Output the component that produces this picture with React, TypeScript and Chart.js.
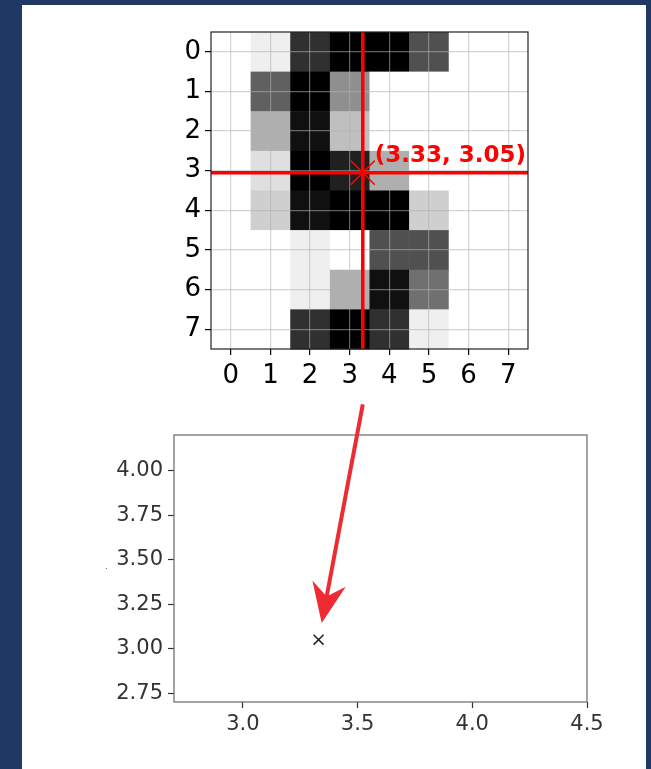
import React, { useEffect, useRef } from 'react';
import { Chart, registerables } from 'chart.js';

Chart.register(...registerables);

// ---------- data ----------
const ROW_0 = [0, 1, 13, 16, 16, 11, 0, 0];
const ROW_1 = [0, 10, 16, 7, 0, 0, 0, 0];
const ROW_2 = [0, 5, 15, 4, 0, 0, 0, 0];
const ROW_3 = [0, 2, 16, 14, 5, 0, 0, 0];
const ROW_4 = [0, 3, 15, 16, 16, 3, 0, 0];
const ROW_5 = [0, 0, 1, 0, 11, 11, 0, 0];
const ROW_6 = [0, 0, 1, 5, 15, 9, 0, 0];
const ROW_7 = [0, 0, 13, 16, 13, 1, 0, 0];
const PIXELS = [ROW_0, ROW_1, ROW_2, ROW_3, ROW_4, ROW_5, ROW_6, ROW_7];
const VMAX = 16;

const TOP_TICKS = [0, 1, 2, 3, 4, 5, 6, 7];
const POINT_X = 3.33;
const POINT_Y = 3.05;
const POINT_LABEL = `(${POINT_X.toFixed(2)}, ${POINT_Y.toFixed(2)})`;

const BOTTOM_X_TICKS = [3.0, 3.5, 4.0, 4.5];
const BOTTOM_Y_TICKS = [2.75, 3.0, 3.25, 3.5, 3.75, 4.0];
const BOTTOM_X_MIN = 2.7;
const BOTTOM_X_MAX = 4.5;
const BOTTOM_Y_MIN = 2.7;
const BOTTOM_Y_MAX = 4.2;

// arrow start, in the top image's data coordinates
const ARROW_FROM_X = 3.33;
const ARROW_FROM_Y = 8.9;

// ---------- style ----------
const FONT = '"DejaVu Sans", sans-serif';
const RED = '#ff0000';
const ARROW_RED = '#ee2b33';
const GRID = 'rgba(176,176,176,0.55)';

const TOP_LEFT = 150;
const TOP_TOP = 20;
const TOP_W = 390;
const TOP_H = 370;

const BOT_LEFT = 100;
const BOT_TOP = 390;
const BOT_W = 520;
const BOT_H = 379;

const heatmapPlugin = {
  id: 'heatmap',
  beforeDraw(chart: any) {
    const { ctx, scales } = chart;
    const xs = scales.x;
    const ys = scales.y;
    ctx.save();
    PIXELS.forEach((row, r) => {
      row.forEach((v, c) => {
        const g = Math.round(255 * (1 - v / VMAX));
        const x0 = xs.getPixelForValue(c - 0.5);
        const x1 = xs.getPixelForValue(c + 0.5);
        const y0 = ys.getPixelForValue(r - 0.5);
        const y1 = ys.getPixelForValue(r + 0.5);
        ctx.fillStyle = `rgb(${g},${g},${g})`;
        ctx.fillRect(Math.min(x0, x1), Math.min(y0, y1), Math.abs(x1 - x0) + 0.5, Math.abs(y1 - y0) + 0.5);
      });
    });
    ctx.restore();
  },
};

const makeFrame = (color: string, width: number) => ({
  id: 'frame',
  afterDatasetsDraw(chart: any) {
    const { ctx, chartArea } = chart;
    ctx.save();
    ctx.strokeStyle = color;
    ctx.lineWidth = width;
    ctx.strokeRect(chartArea.left, chartArea.top, chartArea.right - chartArea.left, chartArea.bottom - chartArea.top);
    ctx.restore();
  },
});

const labelPlugin = {
  id: 'pointLabel',
  afterDatasetsDraw(chart: any) {
    const { ctx, scales } = chart;
    const px = scales.x.getPixelForValue(POINT_X);
    const py = scales.y.getPixelForValue(POINT_Y);
    ctx.save();
    ctx.fillStyle = RED;
    ctx.font = `bold 23px ${FONT}`;
    ctx.textAlign = 'left';
    ctx.textBaseline = 'alphabetic';
    ctx.fillText(POINT_LABEL, px + 12, py - 11);
    ctx.restore();
  },
};

const setTicks = (list: number[]) => (scale: any) => {
  scale.ticks = list.map((value) => ({ value }));
};

const fixX = (h: number) => (s: any) => {
  s.height = h;
  s.paddingLeft = 0;
  s.paddingRight = 0;
};
const fixY = (w: number) => (s: any) => {
  s.width = w;
  s.paddingTop = 0;
  s.paddingBottom = 0;
};

export default function App() {
  const topRef = useRef<HTMLCanvasElement>(null);
  const botRef = useRef<HTMLCanvasElement>(null);
  const arrowRef = useRef<HTMLCanvasElement>(null);

  useEffect(() => {
    const topTickFont = { family: FONT, size: 26 };
    const top = new Chart(topRef.current as HTMLCanvasElement, {
      type: 'scatter',
      data: {
        datasets: [
          {
            type: 'scatter',
            data: [{ x: POINT_X, y: POINT_Y }],
            pointStyle: 'crossRot',
            pointRadius: 17,
            borderColor: RED,
            backgroundColor: RED,
            borderWidth: 1.5,
          },
          {
            type: 'line',
            data: [{ x: POINT_X, y: -0.5 }, { x: POINT_X, y: 7.5 }],
            borderColor: RED,
            borderWidth: 3.5,
            pointRadius: 0,
            fill: false,
          },
          {
            type: 'line',
            data: [{ x: -0.5, y: POINT_Y }, { x: 7.5, y: POINT_Y }],
            borderColor: RED,
            borderWidth: 3.5,
            pointRadius: 0,
            fill: false,
          },
        ],
      } as any,
      options: {
        responsive: false,
        animation: false,
        layout: { autoPadding: false, padding: { top: 12, right: 12, left: 0, bottom: 0 } },
        plugins: { legend: { display: false }, tooltip: { enabled: false } },
        scales: {
          x: {
            type: 'linear',
            min: -0.5,
            max: 7.5,
            afterBuildTicks: setTicks(TOP_TICKS),
            afterFit: fixX(41),
            grid: { color: GRID, lineWidth: 1.2, tickColor: '#000', tickLength: 6, tickWidth: 1.2 },
            border: { display: false },
            ticks: { font: topTickFont, color: '#000', padding: 6, maxRotation: 0, autoSkip: false },
          },
          y: {
            type: 'linear',
            reverse: true,
            min: -0.5,
            max: 7.5,
            afterBuildTicks: setTicks(TOP_TICKS),
            afterFit: fixY(61),
            grid: { color: GRID, lineWidth: 1.2, tickColor: '#000', tickLength: 6, tickWidth: 1.2 },
            border: { display: false },
            ticks: { font: topTickFont, color: '#000', padding: 4, autoSkip: false },
          },
        },
      } as any,
      plugins: [heatmapPlugin, makeFrame('#222', 1.2), labelPlugin],
    });

    const botTickFont = { family: FONT, size: 21 };
    const bot = new Chart(botRef.current as HTMLCanvasElement, {
      type: 'scatter',
      data: {
        datasets: [
          {
            data: [{ x: POINT_X, y: POINT_Y }],
            pointStyle: 'crossRot',
            pointRadius: 7,
            borderColor: '#222',
            backgroundColor: '#222',
            borderWidth: 1.5,
          },
        ],
      } as any,
      options: {
        responsive: false,
        animation: false,
        layout: { autoPadding: false, padding: { top: 45, right: 33, left: 0, bottom: 0 } },
        plugins: { legend: { display: false }, tooltip: { enabled: false } },
        scales: {
          x: {
            type: 'linear',
            min: BOTTOM_X_MIN,
            max: BOTTOM_X_MAX,
            afterBuildTicks: setTicks(BOTTOM_X_TICKS),
            afterFit: fixX(67),
            grid: { drawOnChartArea: false, tickColor: '#333', tickLength: 6, tickWidth: 1.2 },
            border: { display: false },
            ticks: {
              font: botTickFont,
              color: '#333',
              padding: 4,
              maxRotation: 0,
              autoSkip: false,
              callback: (v: any) => Number(v).toFixed(1),
            },
          },
          y: {
            type: 'linear',
            min: BOTTOM_Y_MIN,
            max: BOTTOM_Y_MAX,
            afterBuildTicks: setTicks(BOTTOM_Y_TICKS),
            afterFit: fixY(74),
            grid: { drawOnChartArea: false, tickColor: '#333', tickLength: 6, tickWidth: 1.2 },
            border: { display: false },
            title: { display: true, text: '.', color: '#777', font: { family: FONT, size: 8 }, padding: 0 },
            ticks: {
              font: botTickFont,
              color: '#333',
              padding: 5,
              autoSkip: false,
              callback: (v: any) => Number(v).toFixed(2),
            },
          },
        },
      } as any,
      plugins: [makeFrame('#666', 1.2)],
    });

    // arrow from the top image to the bottom point
    const canvas = arrowRef.current as HTMLCanvasElement;
    const ctx = canvas.getContext('2d') as CanvasRenderingContext2D;
    ctx.clearRect(0, 0, canvas.width, canvas.height);
    const ax = TOP_LEFT + top.scales.x.getPixelForValue(ARROW_FROM_X);
    const ay = TOP_TOP + top.scales.y.getPixelForValue(ARROW_FROM_Y);
    const px = BOT_LEFT + bot.scales.x.getPixelForValue(POINT_X);
    const py = BOT_TOP + bot.scales.y.getPixelForValue(POINT_Y);
    const dx = px - ax;
    const dy = py - ay;
    const len = Math.hypot(dx, dy);
    const ux = dx / len;
    const uy = dy / len;
    const nx = -uy;
    const ny = ux;
    const tipX = px - ux * 17;
    const tipY = py - uy * 17;
    const notchX = tipX - ux * 27;
    const notchY = tipY - uy * 27;
    ctx.save();
    ctx.strokeStyle = ARROW_RED;
    ctx.fillStyle = ARROW_RED;
    ctx.lineWidth = 4;
    ctx.beginPath();
    ctx.moveTo(ax, ay);
    ctx.lineTo(notchX + ux * 3, notchY + uy * 3);
    ctx.stroke();
    ctx.beginPath();
    ctx.moveTo(tipX, tipY);
    ctx.lineTo(tipX - ux * 40 + nx * 17, tipY - uy * 40 + ny * 17);
    ctx.lineTo(notchX, notchY);
    ctx.lineTo(tipX - ux * 40 - nx * 17, tipY - uy * 40 - ny * 17);
    ctx.closePath();
    ctx.fill();
    ctx.restore();

    return () => {
      top.destroy();
      bot.destroy();
    };
  }, []);

  return (
    <div style={{ position: 'absolute', left: 0, top: 0, width: 651, height: 769, background: '#1f3864', overflow: 'hidden' }}>
      <div style={{ position: 'absolute', left: 22, top: 5, width: 624, height: 764, background: '#ffffff' }} />
      <canvas
        ref={topRef}
        width={TOP_W}
        height={TOP_H}
        style={{ position: 'absolute', left: TOP_LEFT, top: TOP_TOP, width: TOP_W, height: TOP_H }}
      />
      <canvas
        ref={botRef}
        width={BOT_W}
        height={BOT_H}
        style={{ position: 'absolute', left: BOT_LEFT, top: BOT_TOP, width: BOT_W, height: BOT_H }}
      />
      <canvas
        ref={arrowRef}
        width={651}
        height={769}
        style={{ position: 'absolute', left: 0, top: 0, width: 651, height: 769, pointerEvents: 'none' }}
      />
    </div>
  );
}
